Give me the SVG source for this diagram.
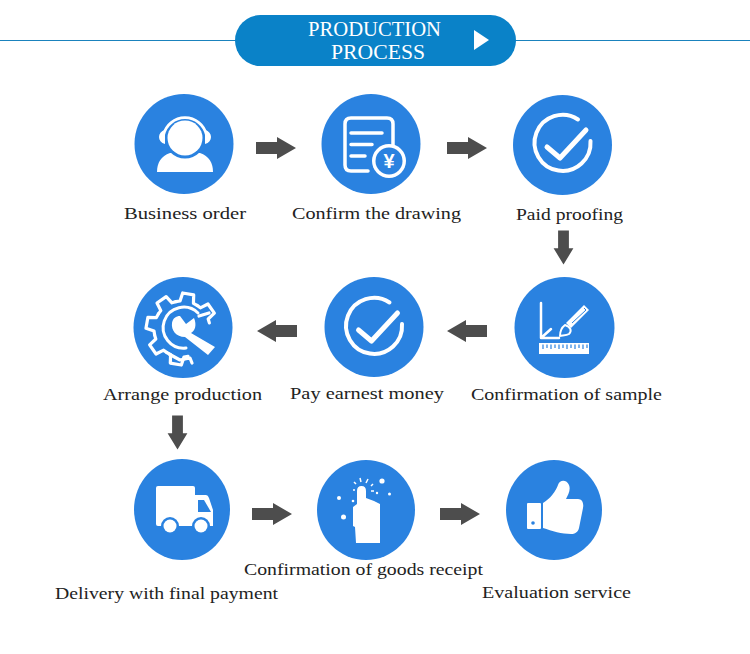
<svg xmlns="http://www.w3.org/2000/svg" width="750" height="654" viewBox="0 0 750 654">
<style>
.disc{fill:#2a82e0}
.w{fill:#fff}
.b{fill:#2a82e0}
.ws{fill:none;stroke:#fff;stroke-linecap:round;stroke-linejoin:round}
.lbl{font-family:"Liberation Serif","Times New Roman",serif;font-size:17px;fill:#222}
.hd{font-family:"Liberation Serif","Times New Roman",serif;font-size:20px;fill:#fff}
.arr{fill:#4d4d4d}
</style>
<defs>
<path id="arrow" d="M-20,-6H1V-11L20,0L1,11V6H-20Z"/>
<polyline id="tooth" points="-10.7,-25.9 -6.8,-27.2 -5.6,-35.6 5.6,-35.6 6.8,-27.2 10.7,-25.9"/>
<g id="check"><path class="ws" stroke-width="4" d="M15.5,-24.5A28,28 0 1 0 28,-3"/><path class="ws" stroke-width="5" d="M-15.5,3L-2.5,14L23.5,-14"/></g>
</defs>
<g id="header">
<path d="M0,40.5H750" stroke="#1a82bd" stroke-width="1.2" fill="none"/>
<rect x="235" y="15" width="281" height="51" rx="25.5" fill="#0a82c8"/>
<polygon points="474,30 489,40 474,50" fill="#fff"/>
<text class="hd" x="308" y="36" textLength="133" lengthAdjust="spacingAndGlyphs">PRODUCTION</text>
<text class="hd" x="331" y="59" textLength="94" lengthAdjust="spacingAndGlyphs">PROCESS</text>
</g>
<g id="connectors" class="arr">
<use href="#arrow" transform="translate(276 148)"/>
<use href="#arrow" transform="translate(467 148)"/>
<use href="#arrow" transform="translate(563.500 247.500) rotate(90) scale(.85 .9)"/>
<use href="#arrow" transform="translate(467 331) rotate(180)"/>
<use href="#arrow" transform="translate(277 331) rotate(180)"/>
<use href="#arrow" transform="translate(177.500 432.500) rotate(90) scale(.85 .9)"/>
<use href="#arrow" transform="translate(272 514)"/>
<use href="#arrow" transform="translate(460 514)"/>
</g>
<g id="node-business-order">
<ellipse class="disc" cx="184" cy="144" rx="49.500" ry="50"/>
<path class="w" d="M157,172C157,163 161,156 170,153H200C209,156 213,163 213,172Z"/>
<circle class="b" cx="185" cy="138" r="20.500"/>
<path class="ws" stroke-width="2.800" d="M163.500,135A22,22 0 0 1 206.500,135"/>
<circle class="w" cx="185" cy="138" r="17.500"/>
<path class="w" d="M165,130C157,132 157,142 165,144Z M205,130C213,132 213,142 205,144Z"/>
</g>
<g id="node-confirm-drawing">
<ellipse class="disc" cx="371" cy="144" rx="49.500" ry="50"/>
<path class="ws" stroke-width="3.500" d="M368,171H351Q345,171 345,165V124Q345,118 351,118H387Q393,118 393,124V148"/>
<path class="ws" stroke-width="3.500" d="M351,133H382M351,144.500H372M351,156H365"/>
<circle class="w" cx="389" cy="161" r="17"/>
<circle class="b" cx="389" cy="161" r="13.500"/>
<text x="389" y="168" text-anchor="middle" font-family="'Liberation Sans',Arial,sans-serif" font-weight="700" font-size="20" fill="#fff">¥</text>
</g>
<g id="node-paid-proofing">
<ellipse class="disc" cx="562.500" cy="145" rx="49.500" ry="50"/>
<use href="#check" transform="translate(562.500 144)"/>
</g>
<g id="node-confirmation-sample">
<ellipse class="disc" cx="564.500" cy="327.500" rx="50" ry="50.500"/>
<path class="ws" stroke-width="2.500" d="M541,303V338H559M541,338L551,329"/>
<rect class="w" x="539" y="343" width="50" height="11"/>
<path d="M543,344.500V349M547,344.500V348M551,344.500V349M555,344.500V348M559,344.500V349M563,344.500V348M567,344.500V349M571,344.500V348M575,344.500V349M579,344.500V348M583,344.500V349M587,344.500V348" stroke="#2a82e0" stroke-width="1.200" fill="none"/>
<path class="w" d="M584,305L589,310L571,328L566,323Z"/>
<path d="M584,308L586,310L572,323" stroke="#2a82e0" fill="none"/>
<path class="ws" stroke-width="2" d="M565,325C571,327 572,331 569,334C566,336 561,335 560,336C560,332 561,328 565,325Z"/>
</g>
<g id="node-pay-earnest">
<ellipse class="disc" cx="374" cy="327" rx="49.500" ry="50"/>
<use href="#check" transform="translate(374 327)"/>
</g>
<g id="node-arrange-production">
<ellipse class="disc" cx="183" cy="327.500" rx="49.500" ry="50.500"/>
<g class="ws" stroke-width="3.200">
<use href="#tooth" transform="translate(182 329) rotate(10)"/>
<use href="#tooth" transform="translate(182 329) rotate(55)"/>
<use href="#tooth" transform="translate(182 329) rotate(-35)"/>
<use href="#tooth" transform="translate(182 329) rotate(-80)"/>
<use href="#tooth" transform="translate(182 329) rotate(-125)"/>
<use href="#tooth" transform="translate(182 329) rotate(-170)"/>
<path d="M199,316L209,313M169,354L180,360L190,358L192,363"/>
</g>
<path class="ws" stroke-width="3" d="M198,313A20.500,20.500 0 1 0 186,348"/>
<path class="w" d="M180,316L186,324L194,318C197,325 195,331 191,333L215,347L208,355L185,337C176,337 171,330 172,323C173,318 176,316 180,316Z"/>
</g>
<g id="node-delivery">
<ellipse class="disc" cx="182" cy="509.500" rx="48" ry="50.500"/>
<rect class="w" x="156" y="486" width="39" height="40" rx="2"/>
<path class="w" d="M195,495H206Q208,495 209,498L213,510V526H195Z"/>
<path class="b" d="M198,500H204L211,512H198Z"/>
<circle class="b" cx="170" cy="526" r="9"/>
<circle class="b" cx="201" cy="526" r="9"/>
<circle class="w" cx="170" cy="526" r="6.500"/>
<circle class="w" cx="201" cy="526" r="6.500"/>
</g>
<g id="node-goods-receipt">
<ellipse class="disc" cx="366" cy="510" rx="49" ry="50"/>
<path class="w" d="M357,491Q357,486 361.500,486Q366,486 366,491V498L374,501L380,504V543H356L355,527L353,526V507L357,504Z"/>
<circle class="w" cx="382" cy="481" r="2.600"/>
<circle class="w" cx="339" cy="498" r="2"/>
<circle class="w" cx="343.500" cy="517" r="2.500"/>
<circle class="w" cx="389.500" cy="494" r="1.500"/>
<circle class="w" cx="377" cy="493" r="1.200"/>
<circle class="w" cx="353" cy="501" r="1.300"/>
<path d="M355,490H353M356,484L354,482M361,482L360,478M366,483L368,479M371,486L373,484M371,491L374,491" stroke="#fff" stroke-width="1.500" fill="none"/>
</g>
<g id="node-evaluation">
<ellipse class="disc" cx="554" cy="510" rx="48" ry="50"/>
<rect class="w" x="527" y="503" width="14" height="26" rx="1"/>
<circle class="b" cx="533" cy="523" r="1.800"/>
<path class="w" d="M543,503C550,499 556,491 558,485C560,479 567,480 569,485C571,490 568,495 566,499H578C582,499 584,503 583,508L579,528C578,532 575,534 571,534C562,534 552,531 543,528Z"/>
</g>
<g id="labels">
<text class="lbl" x="124" y="219" textLength="122" lengthAdjust="spacingAndGlyphs">Business order</text>
<text class="lbl" x="292" y="219" textLength="169" lengthAdjust="spacingAndGlyphs">Confirm the drawing</text>
<text class="lbl" x="516" y="220" textLength="107" lengthAdjust="spacingAndGlyphs">Paid proofing</text>
<text class="lbl" x="471" y="400" textLength="191" lengthAdjust="spacingAndGlyphs">Confirmation of sample</text>
<text class="lbl" x="290" y="399" textLength="154" lengthAdjust="spacingAndGlyphs">Pay earnest money</text>
<text class="lbl" x="103" y="400" textLength="159" lengthAdjust="spacingAndGlyphs">Arrange production</text>
<text class="lbl" x="55" y="599" textLength="223" lengthAdjust="spacingAndGlyphs">Delivery with final payment</text>
<text class="lbl" x="244" y="575" textLength="239" lengthAdjust="spacingAndGlyphs">Confirmation of goods receipt</text>
<text class="lbl" x="482" y="598" textLength="149" lengthAdjust="spacingAndGlyphs">Evaluation service</text>
</g>
</svg>
